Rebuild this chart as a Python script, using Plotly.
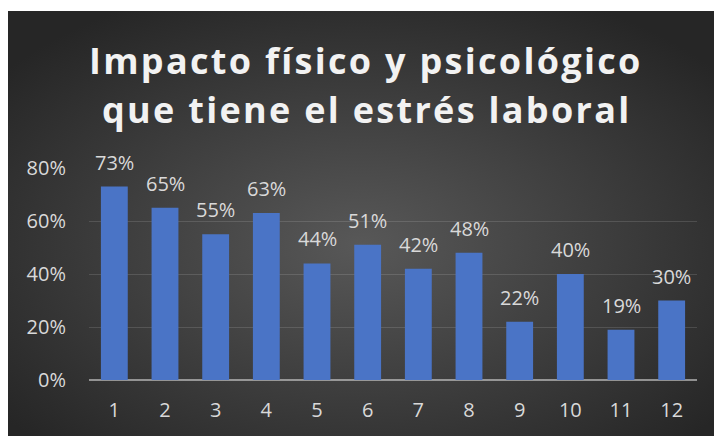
import base64
import plotly.graph_objects as go

# Data
categories = ["1", "2", "3", "4", "5", "6", "7", "8", "9", "10", "11", "12"]
values = [0.73, 0.65, 0.55, 0.63, 0.44, 0.51, 0.42, 0.48, 0.22, 0.40, 0.19, 0.30]
y_ticks = [0, 0.2, 0.4, 0.6, 0.8]
y_tick_labels = ["0%", "20%", "40%", "60%", "80%"]
title_lines = ["Impacto físico y psicológico", "que tiene el estrés laboral"]

W, H = 714, 436

# Dark radial-gradient panel behind the chart
svg = (
    '<svg xmlns="http://www.w3.org/2000/svg" width="706" height="425">'
    '<defs><radialGradient id="g" cx="50%" cy="55%" r="65%">'
    '<stop offset="0%" stop-color="#585858"/>'
    '<stop offset="100%" stop-color="#262626"/>'
    '</radialGradient></defs>'
    '<rect width="706" height="425" fill="url(#g)"/></svg>'
)
bg_uri = "data:image/svg+xml;base64," + base64.b64encode(svg.encode()).decode()

fig = go.Figure()
fig.add_trace(go.Bar(
    x=categories,
    y=values,
    marker=dict(color="#4a74c6", line=dict(width=0)),
    hoverinfo="skip",
))

# Value labels above each bar (category index positions)
label_font = dict(family="Open Sans", size=20, color="#d9d9d9")
for idx, v in enumerate(values):
    fig.add_annotation(
        x=idx, y=v, text=f"{round(v * 100)}%",
        showarrow=False, yanchor="bottom", yshift=9,
        font=label_font,
    )

# Two-line title
title_font = dict(family="Open Sans", size=36, color="#f2f2f2", weight="bold")
for i, line in enumerate(title_lines):
    fig.add_annotation(
        xref="paper", yref="paper",
        x=(366 - 89) / (697 - 89),
        y=1 + (168 - (72 + 50 * i)) / (380 - 168),
        text=f'<span style="letter-spacing:2.3px">{line}</span>',
        showarrow=False, xanchor="center", yanchor="middle",
        yshift=12, font=title_font,
    )

fig.update_layout(
    width=W, height=H,
    margin=dict(l=89, r=W - 697, t=168, b=H - 380),
    paper_bgcolor="white",
    plot_bgcolor="rgba(0,0,0,0)",
    showlegend=False,
    bargap=0.47,
    images=[dict(
        source=bg_uri, xref="paper", yref="paper",
        x=-(89 - 8) / (697 - 89), y=1 + (168 - 11) / (380 - 168),
        sizex=706 / (697 - 89), sizey=425 / (380 - 168),
        xanchor="left", yanchor="top", sizing="stretch", layer="below",
    )],
    xaxis=dict(
        type="category",
        range=[-0.5, len(categories) - 0.5],
        showgrid=False, zeroline=False,
        showline=False,
        ticks="", ticklabelstandoff=16,
        tickfont=dict(family="Open Sans", size=20, color="#d9d9d9"),
        fixedrange=True,
    ),
    yaxis=dict(
        range=[0, 0.8],
        tickvals=y_ticks, ticktext=y_tick_labels,
        showgrid=True, gridcolor="rgba(255,255,255,0.13)", gridwidth=1,
        zeroline=True, zerolinecolor="rgba(200,200,200,0.65)", zerolinewidth=2,
        ticks="", ticklabelstandoff=22,
        tickfont=dict(family="Open Sans", size=20, color="#d9d9d9"),
        fixedrange=True,
    ),
)

fig.write_html("out.html")
